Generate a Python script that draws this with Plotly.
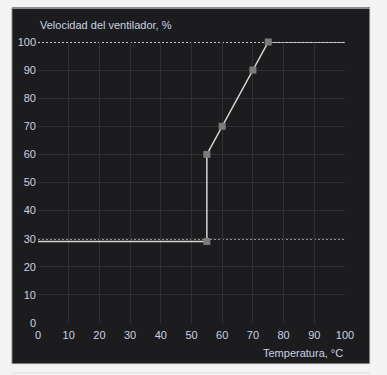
import plotly.graph_objects as go

temps = [0, 55, 55, 60, 70, 75, 100]
speeds = [29, 29, 60, 70, 90, 100, 100]
marker_temps = [55, 55, 60, 70, 75]
marker_speeds = [29, 60, 70, 90, 100]
limit_levels = [100, 30]
ticks = [0, 10, 20, 30, 40, 50, 60, 70, 80, 90, 100]

dark = "#1c1c1e"
grid = "#303032"
txt = "#c9d2e3"
font = "Liberation Sans, Arial, sans-serif"

X0, X1, Y0, Y1 = -0.0847, 1.0814, -0.146, 1.121

fig = go.Figure()
fig.add_trace(go.Scatter(x=temps, y=speeds, mode="lines",
                         line=dict(color="#d6d6d6", width=1.5),
                         cliponaxis=False, hoverinfo="skip"))
fig.add_trace(go.Scatter(x=marker_temps, y=marker_speeds, mode="markers",
                         marker=dict(symbol="square", size=7, color="#7b7b7b"),
                         cliponaxis=False, hoverinfo="skip"))

shapes = [
    dict(type="rect", xref="paper", yref="paper", x0=X0, x1=X1, y0=Y0, y1=Y1,
         fillcolor=dark, line=dict(width=0), layer="below"),
    dict(type="line", xref="paper", yref="paper", x0=X0, x1=X1, y0=Y1, y1=Y1,
         line=dict(color="#8c8c8c", width=2)),
    dict(type="line", xref="paper", yref="paper", x0=X0, x1=X0, y0=Y0, y1=Y1,
         line=dict(color="#8c8c8c", width=1)),
    dict(type="line", xref="paper", yref="paper", x0=X1, x1=X1, y0=Y0, y1=Y1,
         line=dict(color="#e2e2e2", width=1)),
    dict(type="line", xref="paper", yref="paper", x0=X0, x1=X1, y0=Y0, y1=Y0,
         line=dict(color="#e2e2e2", width=1)),
    dict(type="line", xref="paper", yref="paper", x0=X0, x1=X1,
         y0=-0.178, y1=-0.178, line=dict(color="#dcdcdc", width=1)),
]
for lv in limit_levels:
    shapes.append(dict(type="line", xref="x", yref="y", x0=0, x1=100, y0=lv, y1=lv,
                       line=dict(color="#ffffff", width=1.5, dash="2px,2px"),
                       layer="below"))

fig.update_layout(
    width=387, height=375,
    margin=dict(l=38, r=42, t=42, b=52),
    paper_bgcolor="#f4f4f4", plot_bgcolor=dark,
    showlegend=False,
    font=dict(family=font, size=11, color=txt),
    shapes=shapes,
    xaxis=dict(range=[0, 100], tickvals=ticks, showgrid=True, gridcolor=grid,
               gridwidth=1, zeroline=False, showline=False, ticks="",
               ticklabelstandoff=4,
               tickfont=dict(family=font, size=11, color=txt)),
    yaxis=dict(range=[0, 100], tickvals=ticks, showgrid=True, gridcolor=grid,
               gridwidth=1, zeroline=False, showline=False, ticks="",
               ticklabelstandoff=1,
               tickfont=dict(family=font, size=11, color=txt)),
    annotations=[
        dict(text="Velocidad del ventilador, %", xref="paper", yref="paper",
             x=0, y=1.06, xanchor="left", yanchor="middle", showarrow=False,
             font=dict(family=font, size=11, color=txt)),
        dict(text="Temperatura, °C", xref="paper", yref="paper",
             x=1.0, y=-0.107, xanchor="right", yanchor="middle", showarrow=False,
             font=dict(family=font, size=11, color=txt)),
    ],
)

fig.write_html("out.html")
